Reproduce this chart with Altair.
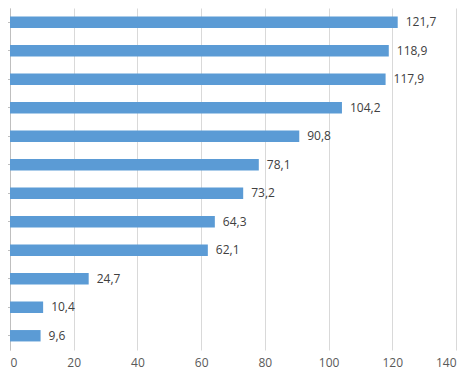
import altair as alt
import pandas as pd

values = [121.7, 118.9, 117.9, 104.2, 90.8, 78.1, 73.2, 64.3, 62.1, 24.7, 10.4, 9.6]
categories = [f"c{i}" for i in range(len(values))]
labels = [f"{v:.1f}".replace(".", ",") for v in values]
x_ticks = [0, 20, 40, 60, 80, 100, 120, 140]

df = pd.DataFrame({"cat": categories, "value": values, "label": labels})

y_enc = alt.Y(
    "cat:N",
    sort=categories,
    scale=alt.Scale(paddingInner=0.6, paddingOuter=0.3),
    axis=alt.Axis(labels=False, title=None, domainColor="#bfbfbf", tickColor="#bfbfbf", tickSize=4, ticks=True, grid=False),
)

x_enc = alt.X(
    "value:Q",
    scale=alt.Scale(domain=[0, 140], nice=False),
    axis=alt.Axis(
        values=x_ticks,
        title=None,
        domain=False,
        ticks=False,
        grid=True,
        gridColor="#d9d9d9",
        gridWidth=1,
        labelColor="#595959",
        labelFontSize=12,
        labelFont="Open Sans",
        labelPadding=7,
    ),
)

bars = alt.Chart(df).mark_bar(color="#5B9BD5").encode(x=x_enc, y=y_enc)

text = alt.Chart(df).mark_text(
    align="left", baseline="middle", dx=8, fontSize=12, font="Open Sans", color="#404040"
).encode(x="value:Q", y=alt.Y("cat:N", sort=categories), text="label:N")

chart = (
    (bars + text)
    .properties(width=446, height=342, padding={"left": -3, "top": 0, "right": 4, "bottom": 12})
    .configure_view(stroke=None)
)

chart.save("out.html", embed_options={"renderer": "svg", "actions": False})
